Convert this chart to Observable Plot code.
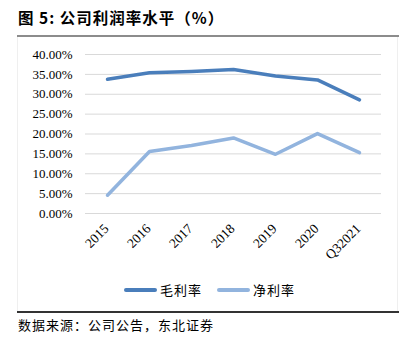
<!DOCTYPE html>
<html>
<head>
<meta charset="utf-8">
<script src="https://cdn.jsdelivr.net/npm/d3@7"></script>
<script src="https://cdn.jsdelivr.net/npm/@observablehq/plot@0.6"></script>
<style>
  html, body { margin: 0; padding: 0; background: #fff; }
  #wrap { position: relative; width: 410px; height: 356px; overflow: hidden; background: #fff; }
  #title { position: absolute; left: 18px; top: 6px; font-family: "Noto Sans CJK SC", sans-serif; font-weight: bold; font-size: 15.5px; color: #000; letter-spacing: 1px; white-space: nowrap; }
  #titleRule { position: absolute; left: 17px; top: 35px; width: 382px; height: 2px; background: #8c8c8c; }
  #box { position: absolute; left: 17px; top: 37px; width: 381px; height: 275px; border-left: 1px solid #efefef; border-right: 1px solid #efefef; box-sizing: border-box; }
  #chart { position: absolute; left: 0; top: 37px; }
  #legend { position: absolute; top: 280px; left: 0; width: 410px; height: 20px; font-family: "Noto Sans CJK SC", sans-serif; font-size: 13px; color: #000; }
  .sw { position: absolute; top: 8px; width: 33px; height: 4px; border-radius: 2px; }
  .lt { position: absolute; top: 0px; white-space: nowrap; letter-spacing: 1px; }
  #bottomRule { position: absolute; left: 17px; top: 311px; width: 382px; height: 2px; background: #333; }
  #source { position: absolute; left: 18px; top: 315px; font-family: "Noto Sans CJK SC", sans-serif; font-size: 13px; color: #000; white-space: nowrap; letter-spacing: 1px; }
</style>
</head>
<body>
<div id="wrap">
  <div id="title">图 5:&nbsp;公司利润率水平（%）</div>
  <div id="titleRule"></div>
  <div id="box"></div>
  <div id="chart"></div>
  <div id="legend"></div>
  <div id="bottomRule"></div>
  <div id="source">数据来源：公司公告，东北证券</div>
</div>
<script>
const periods = ["2015", "2016", "2017", "2018", "2019", "2020", "Q32021"];
const grossMargin = [33.8, 35.4, 35.7, 36.2, 34.6, 33.6, 28.6];
const netMargin = [4.6, 15.6, 17.1, 19.0, 14.9, 20.1, 15.3];
const seriesNames = ["毛利率", "净利率"];
const seriesColors = ["#4a7ebb", "#92b4de"];
const yTicks = [0, 5, 10, 15, 20, 25, 30, 35, 40];

const rows = [];
periods.forEach((p, i) => {
  rows.push({period: p, value: grossMargin[i], series: seriesNames[0]});
  rows.push({period: p, value: netMargin[i], series: seriesNames[1]});
});

const chart = Plot.plot({
  width: 410,
  height: 230,
  marginLeft: 85,
  marginRight: 29,
  marginTop: 17,
  marginBottom: 54,
  style: { fontFamily: "'Liberation Serif', 'Times New Roman', serif", fontSize: "13px", color: "#000", background: "transparent" },
  x: { type: "point", domain: periods, padding: 0.5, label: null },
  y: { domain: [0, 40], label: null },
  color: { domain: seriesNames, range: seriesColors },
  marks: [
    Plot.ruleY(yTicks, { stroke: "#d9d9d9", strokeWidth: 1 }),
    Plot.axisY({ ticks: yTicks, tickFormat: d => d.toFixed(2) + "%", tickSize: 0, tickPadding: 13, label: null, fontSize: 13 }),
    Plot.axisX({ tickSize: 0, tickRotate: -45, tickPadding: 13, dx: -1, label: null, fontSize: 13.5 }),
    Plot.line(rows, { x: "period", y: "value", z: "series", stroke: "series", strokeWidth: 3.5, strokeLinecap: "round", strokeLinejoin: "round" })
  ]
});
document.getElementById("chart").appendChild(chart);

const legend = document.getElementById("legend");
const legendX = [124, 217];
seriesNames.forEach((name, i) => {
  const sw = document.createElement("div");
  sw.className = "sw";
  sw.style.left = legendX[i] + "px";
  sw.style.background = seriesColors[i];
  legend.appendChild(sw);
  const t = document.createElement("div");
  t.className = "lt";
  t.style.left = (legendX[i] + 36) + "px";
  t.textContent = name;
  legend.appendChild(t);
});
</script>
</body>
</html>
